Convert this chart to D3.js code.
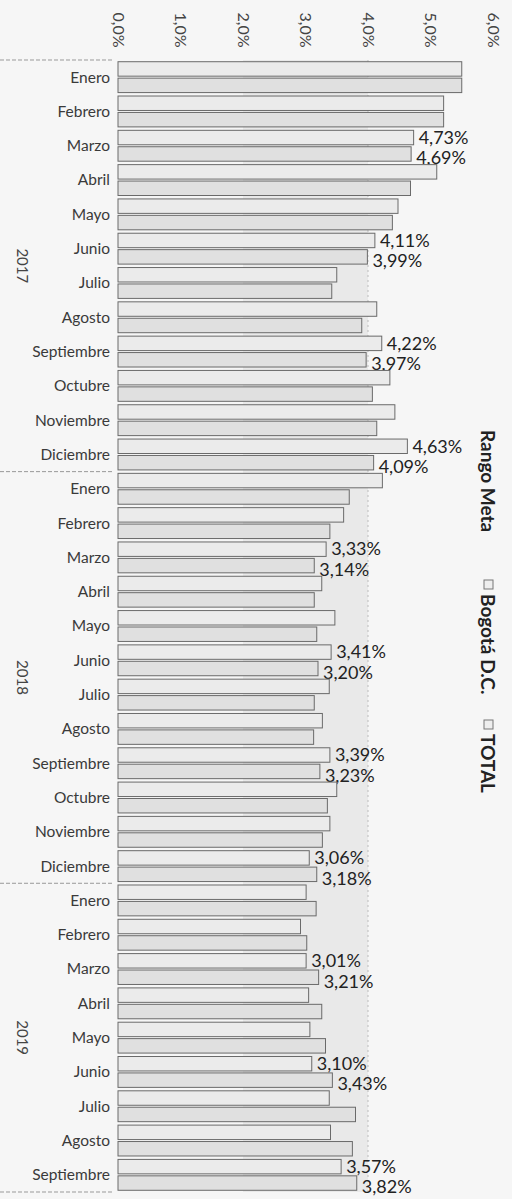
<!DOCTYPE html>
<html>
<head>
<meta charset="utf-8">
<script src="https://cdn.jsdelivr.net/npm/d3@7"></script>
<style>
  body { margin: 0; background: #f6f6f6; }
  svg { display: block; }
  text { font-family: Lato, "Open Sans", sans-serif; }
</style>
</head>
<body>
<script>
// months per year (the chart runs from Jan 2017 to Sep 2019)
var monthNames = ["Enero", "Febrero", "Marzo", "Abril", "Mayo", "Junio", "Julio",
  "Agosto", "Septiembre", "Octubre", "Noviembre", "Diciembre"];
var years = ["2017", "2018", "2019"];
var monthsPerYear = [12, 12, 9];

// annual inflation, %
var bogota = [5.50, 5.21, 4.73, 5.10, 4.48, 4.11, 3.50, 4.14, 4.22, 4.35, 4.43, 4.63,
  4.23, 3.61, 3.33, 3.26, 3.47, 3.41, 3.38, 3.27, 3.39, 3.50, 3.39, 3.06,
  3.01, 2.92, 3.01, 3.05, 3.07, 3.10, 3.38, 3.40, 3.57];
var total = [5.50, 5.21, 4.69, 4.68, 4.39, 3.99, 3.42, 3.90, 3.97, 4.07, 4.14, 4.09,
  3.70, 3.39, 3.14, 3.14, 3.18, 3.20, 3.14, 3.13, 3.23, 3.35, 3.27, 3.18,
  3.17, 3.02, 3.21, 3.26, 3.32, 3.43, 3.80, 3.75, 3.82];

var rangoMeta = [2, 4];
var xTicks = [0, 1, 2, 3, 4, 5, 6];
var labeledMonths = ["Marzo", "Junio", "Septiembre", "Diciembre"];
var seriesNames = ["Bogotá D.C.", "TOTAL"];

var width = 512, height = 1199;
// note: "top" is taken by window.top, so use other names
var plotLeft = 118, plotRight = 493, plotTop = 60, plotBottom = 1192;

// build the category list
var rows = [];
years.forEach(function (yr, yi) {
    for (var m = 0; m < monthsPerYear[yi]; m++) {
        rows.push({ id: rows.length, year: yr, month: monthNames[m] });
    }
});
rows.forEach(function (r, i) {
    r.values = [bogota[i], total[i]];
});

var loc = d3.formatLocale({ decimal: ",", thousands: ".", grouping: [3], currency: ["", ""] });
var pct2 = function (v) { return loc.format(".2f")(v) + "%"; };
var pct1 = function (v) { return loc.format(".1f")(v) + "%"; };

var svg = d3.select("body").append("svg").attr("width", width).attr("height", height);

var x = d3.scaleLinear().domain([0, 6]).range([plotLeft, plotRight]);
var y = d3.scaleBand().domain(rows.map(function (d) { return d.id; }))
    .range([plotTop, plotBottom]).paddingInner(0.1).paddingOuter(0.05);
var ySub = d3.scaleBand().domain([0, 1]).range([0, y.bandwidth()]).paddingInner(0.12);

// target range band
svg.append("rect")
    .attr("x", x(rangoMeta[0]))
    .attr("y", plotTop)
    .attr("width", x(rangoMeta[1]) - x(rangoMeta[0]))
    .attr("height", plotBottom - plotTop)
    .attr("fill", "#e9e9e9");
svg.append("line")
    .attr("x1", x(rangoMeta[1])).attr("x2", x(rangoMeta[1]))
    .attr("y1", plotTop).attr("y2", plotBottom)
    .attr("stroke", "#bbb").attr("stroke-dasharray", "2,3");

// top axis with rotated labels
var axis = svg.append("g")
    .attr("transform", "translate(0,30)")
    .call(d3.axisTop(x).tickValues(xTicks).tickFormat(pct1).tickSize(0));
axis.select(".domain").remove();
axis.selectAll("text")
    .attr("transform", "rotate(90)")
    .attr("x", 0).attr("y", 0).attr("dy", "0.35em")
    .attr("text-anchor", "middle")
    .attr("font-size", 16)
    .attr("fill", "#444")
    .style("font-family", "Lato, sans-serif");

// bars
var groups = svg.selectAll("g.row")
    .data(rows)
    .enter()
    .append("g")
    .attr("class", "row")
    .attr("transform", function (d) { return "translate(0," + y(d.id) + ")"; });

groups.selectAll("rect")
    .data(function (d) { return d.values; })
    .enter()
    .append("rect")
    .attr("x", x(0))
    .attr("y", function (d, i) { return ySub(i); })
    .attr("width", function (d) { return x(d) - x(0); })
    .attr("height", ySub.bandwidth())
    .attr("fill", function (d, i) { return i == 0 ? "#ebebeb" : "#e0e0e0"; })
    .attr("stroke", "#6a6a6a")
    .attr("stroke-width", 1);

// data labels on quarter months
groups.filter(function (d) { return labeledMonths.indexOf(d.month) >= 0; })
    .selectAll("text.val")
    .data(function (d) { return d.values; })
    .enter()
    .append("text")
    .attr("class", "val")
    .attr("x", function (d) { return x(d) + 5; })
    .attr("y", function (d, i) { return ySub(i) + ySub.bandwidth() / 2 + (i == 0 ? 0 : 4); })
    .attr("dy", "0.35em")
    .attr("font-size", 18)
    .attr("fill", "#222")
    .text(pct2);

// month labels
svg.selectAll("text.month")
    .data(rows)
    .enter()
    .append("text")
    .attr("class", "month")
    .attr("x", 110)
    .attr("y", function (d) { return y(d.id) + y.bandwidth() / 2; })
    .attr("dy", "0.35em")
    .attr("text-anchor", "end")
    .attr("font-size", 15.5)
    .attr("fill", "#3a3a3a")
    .text(function (d) { return d.month; });

// year separators and year labels
var start = 0, bounds = [0];
monthsPerYear.forEach(function (n) { start += n; bounds.push(start); });
var step = y.step();
function boundaryY(k) { return Math.min(plotTop + k * step, plotBottom); }

svg.selectAll("line.sep")
    .data(bounds)
    .enter()
    .append("line")
    .attr("class", "sep")
    .attr("x1", 0).attr("x2", 114)
    .attr("y1", boundaryY)
    .attr("y2", boundaryY)
    .attr("stroke", "#999")
    .attr("stroke-dasharray", "4,2");

svg.selectAll("text.year")
    .data(years)
    .enter()
    .append("text")
    .attr("class", "year")
    .attr("transform", function (d, i) {
        var cy = (boundaryY(bounds[i]) + boundaryY(bounds[i + 1])) / 2;
        return "translate(22," + cy + ") rotate(90)";
    })
    .attr("text-anchor", "middle")
    .attr("dy", "0.35em")
    .attr("font-size", 15)
    .attr("fill", "#444")
    .text(function (d) { return d; });

// legend, rotated
var legend = svg.append("g").attr("transform", "translate(488,430) rotate(90)");
var legendItems = [
    { name: "Rango Meta", box: false, pos: 0 },
    { name: seriesNames[0], box: true, pos: 150 },
    { name: seriesNames[1], box: true, pos: 290 }
];
legendItems.forEach(function (it) {
    var g = legend.append("g").attr("transform", "translate(" + it.pos + ",0)");
    var tx = 0;
    if (it.box) {
        g.append("rect").attr("x", 0).attr("y", -5).attr("width", 9).attr("height", 9)
            .attr("fill", "#eee").attr("stroke", "#777");
        tx = 14;
    }
    g.append("text")
        .attr("x", tx).attr("y", 0).attr("dy", "0.35em")
        .attr("font-size", 19)
        .attr("font-weight", "bold")
        .attr("fill", "#222")
        .text(it.name);
});
</script>
</body>
</html>
